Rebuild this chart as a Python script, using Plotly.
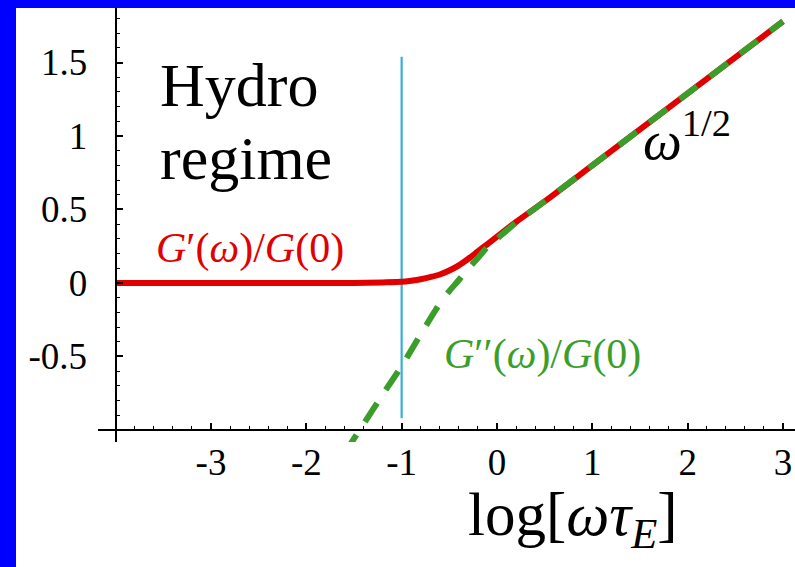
import plotly.graph_objects as go

# ---- data ----
red_x = [-4.0, -3.0, -2.0, -1.5, -1.2, -1.0, -0.9, -0.8, -0.7, -0.6, -0.5, -0.4,
         -0.3, -0.2, -0.1, 0.0, 0.2, 0.5, 1.0, 1.5, 2.0, 2.5, 3.0]
red_y = [0.0, 0.0, 0.0, 0.0, 0.004, 0.008, 0.015, 0.025, 0.04, 0.058, 0.085, 0.12,
         0.165, 0.215, 0.265, 0.315, 0.415, 0.555, 0.80, 1.045, 1.29, 1.535, 1.78]

green_x = [-1.6, -1.4, -1.2, -1.0, -0.8, -0.6, -0.5, -0.4, -0.3, -0.2, -0.1, 0.0,
           0.2, 0.5, 1.0, 1.5, 2.0, 2.5, 3.0]
green_y = [-1.16, -0.96, -0.76, -0.565, -0.35, -0.14, -0.055, 0.02, 0.10, 0.17, 0.245, 0.30,
           0.41, 0.555, 0.80, 1.045, 1.29, 1.535, 1.78]

vline_x = [-1.0, -1.0]
vline_y = [-0.92, 1.54]

x_tickvals = [-3, -2, -1, 0, 1, 2, 3]
x_ticktext = ["-3", "-2", "-1", "0", "1", "2", "3"]
y_tickvals = [-0.5, 0, 0.5, 1, 1.5]
y_ticktext = ["-0.5", "0", "0.5", "1", "1.5"]

# ---- layout geometry ----
W, H = 795, 567
ML, MR, MT, MB = 98, 0, 8, 125
xr = [-4.185, 3.126]
yr = [-1.082, 1.871]
pw = W - ML - MR
ph = H - MT - MB

FONT = "Liberation Serif, DejaVu Serif, Noto Serif, serif"
RED = "#e00000"
GREEN = "#3c9e2a"
BLUE_LINE = "#3aaed8"

fig = go.Figure()
fig.add_trace(go.Scatter(x=vline_x, y=vline_y, mode="lines",
                         line=dict(color=BLUE_LINE, width=2.2), hoverinfo="skip"))
fig.add_trace(go.Scatter(x=red_x, y=red_y, mode="lines",
                         line=dict(color=RED, width=6, shape="spline", smoothing=0.8)))
fig.add_trace(go.Scatter(x=green_x, y=green_y, mode="lines",
                         line=dict(color=GREEN, width=6, dash="22px,16px",
                                   shape="spline", smoothing=0.8)))

x_pos = (-1 - yr[0]) / (yr[1] - yr[0])
y_pos = (-4 - xr[0]) / (xr[1] - xr[0])

fig.update_layout(
    width=W, height=H,
    margin=dict(l=ML, r=MR, t=MT, b=MB, pad=0),
    paper_bgcolor="white", plot_bgcolor="white",
    showlegend=False,
    font=dict(family=FONT, color="black"),
    xaxis=dict(range=xr, anchor="free", position=x_pos,
               showgrid=False, zeroline=False,
               showline=True, linecolor="black", linewidth=2,
               tickmode="array", tickvals=x_tickvals, ticktext=x_ticktext,
               ticks="inside", ticklen=6, tickwidth=1.5, tickcolor="black",
               tickfont=dict(family=FONT, size=37, color="black"),
               ticklabelstandoff=0,
               minor=dict(tickmode="linear", tick0=-4, dtick=0.2, ticks="inside",
                          ticklen=3, tickwidth=1, tickcolor="black")),
    yaxis=dict(range=yr, anchor="free", position=y_pos,
               showgrid=False, zeroline=False,
               showline=True, linecolor="black", linewidth=2.2,
               tickmode="array", tickvals=y_tickvals, ticktext=y_ticktext,
               ticks="inside", ticklen=6, tickwidth=1.5, tickcolor="black",
               tickfont=dict(family=FONT, size=37, color="black"),
               ticklabelstandoff=20,
               minor=dict(tickmode="linear", tick0=0, dtick=0.1, ticks="inside",
                          ticklen=3, tickwidth=1, tickcolor="black")),
)

# blue frame (left and top)
fig.add_shape(type="rect", xref="paper", yref="paper",
              x0=-ML / pw, x1=(16 - ML) / pw, y0=-MB / ph, y1=(MT + 2) / ph + 1,
              fillcolor="#0000ff", line=dict(width=0), layer="above")
fig.add_shape(type="rect", xref="paper", yref="paper",
              x0=-ML / pw, x1=1.0, y0=1.0, y1=1 + (MT + 2) / ph,
              fillcolor="#0000ff", line=dict(width=0), layer="above")

# annotations
fig.add_annotation(x=-3.56, y=1.345, xref="x", yref="y", text="Hydro",
                   showarrow=False, xanchor="left", yanchor="middle",
                   font=dict(family=FONT, size=62, color="black"))
fig.add_annotation(x=-3.56, y=0.85, xref="x", yref="y", text="regime",
                   showarrow=False, xanchor="left", yanchor="middle",
                   font=dict(family=FONT, size=62, color="black"))
fig.add_annotation(x=-2.59, y=0.235, xref="x", yref="y",
                   text="<i>G</i>′(<i>ω</i>)/<i>G</i>(0)",
                   showarrow=False, xanchor="center", yanchor="middle",
                   font=dict(family=FONT, size=42, color=RED))
fig.add_annotation(x=0.48, y=-0.49, xref="x", yref="y",
                   text="<i>G</i>′′(<i>ω</i>)/<i>G</i>(0)",
                   showarrow=False, xanchor="center", yanchor="middle",
                   font=dict(family=FONT, size=42, color=GREEN))
fig.add_annotation(x=1.99, y=1.0, xref="x", yref="y",
                   text="<i>ω</i><sup>1/2</sup>",
                   showarrow=False, xanchor="center", yanchor="middle",
                   font=dict(family=FONT, size=55, color="black"))
fig.add_annotation(x=0.8, y=-0.178, xref="x", yref="paper",
                   text="log[<i>ωτ</i><sub><i>E</i></sub>]",
                   showarrow=False, xanchor="center", yanchor="middle",
                   font=dict(family=FONT, size=61, color="black"))

fig.write_html("out.html",
               config={"displayModeBar": False},
               post_script="document.body.style.margin='0';document.body.style.padding='0';")
